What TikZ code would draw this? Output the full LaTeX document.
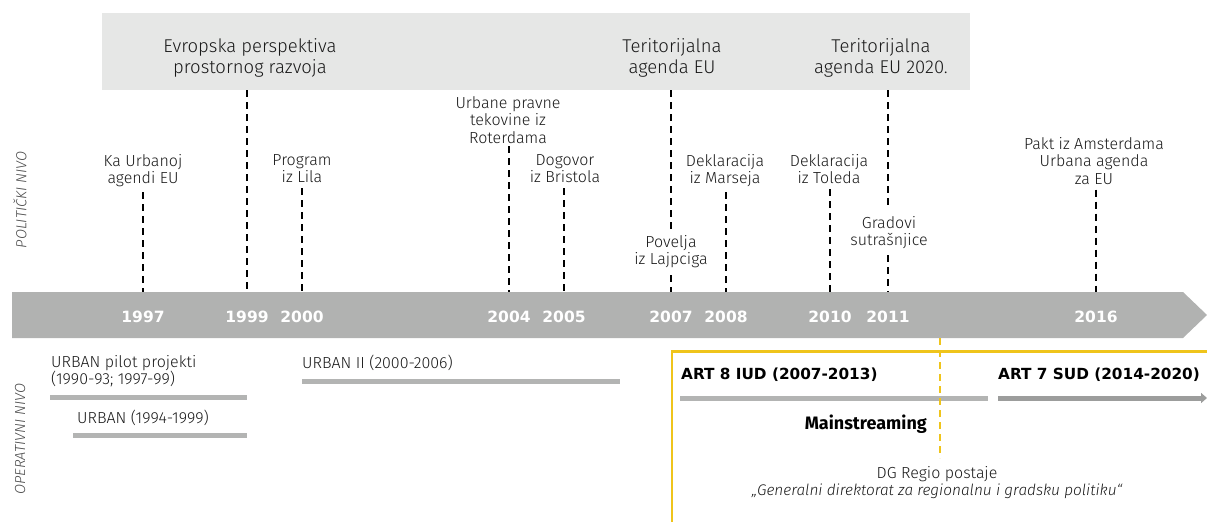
\documentclass[tikz,border=0pt]{standalone}
\usepackage{fontspec}
\IfFontExistsTF{Fira Sans Light}{%
  \setmainfont{Fira Sans Light}[ItalicFont={Fira Sans Light Italic}, BoldFont={Fira Sans Bold}]%
}{%
  \setmainfont{Fira Sans}%
}
\newfontfamily\widebold{DejaVu Sans}
\newfontfamily\firab{Fira Sans}
\usetikzlibrary{arrows.meta}
\definecolor{bandg}{HTML}{B1B2B1}
\definecolor{boxg}{HTML}{E6E7E6}
\definecolor{barg}{HTML}{B3B4B3}
\definecolor{darkbar}{HTML}{9C9D9C}
\definecolor{eyel}{HTML}{EFC41B}
\definecolor{sidetxt}{HTML}{4A4A4A}
\tikzset{
  lbl/.style={align=center, inner sep=0pt, anchor=north, font=\fontsize{16}{17.5}\selectfont, text=black!90},
  toptxt/.style={align=center, inner sep=0pt, anchor=north, font=\fontsize{18.5}{21}\selectfont, text=black!90},
  dsh/.style={line width=2.8pt, dash pattern=on 7pt off 5pt},
  ydsh/.style={line width=2pt, dash pattern=on 7pt off 5pt, draw=eyel},
  yr/.style={inner sep=0pt, text=white, font=\widebold\bfseries\fontsize{15.5}{15.5}\selectfont},
  opbar/.style={line width=5pt, draw=barg},
  optxt/.style={inner sep=0pt, anchor=north west, align=left, font=\fontsize{16}{17.5}\selectfont, text=black!90},
  arttxt/.style={inner sep=0pt, anchor=base west, font=\widebold\bfseries\fontsize{15.3}{15.3}\selectfont},
  side/.style={inner sep=0pt, rotate=90, text=sidetxt, font=\itshape\fontsize{14.6}{14.6}\selectfont},
}
\begin{document}
\begin{tikzpicture}[x=1pt,y=-1pt]
\useasboundingbox (0,0) rectangle (1207,522);
% top grey box
\node[fill=boxg, minimum width=868pt, minimum height=77pt, anchor=north west, inner sep=0pt] (topbox) at (102,13) {};
\node[toptxt] (esdp) at (250,38) {Evropska perspektiva\\prostornog razvoja};
\node[toptxt] (ta) at (672,38) {Teritorijalna\\agenda EU};
\node[toptxt] (ta2020) at (881,38) {Teritorijalna\\agenda EU 2020.};
% band
\path[fill=bandg] (12,292) -- (1183,292) -- (1207,315) -- (1183,338) -- (12,338) -- cycle;
\coordinate (bandtop) at (0,292);
\coordinate (bandbot) at (0,338);
% years
\foreach \yy/\xx in {1997/143,1999/247,2000/302,2004/509,2005/564,2007/671,2008/726,2010/830,2011/888,2016/1096}
  \node[yr] (y\yy) at (\xx,316.5) {\yy};
% labels
\node[lbl] (l1997) at (143,154) {Ka Urbanoj\\agendi EU};
\node[lbl] (l2000) at (302,154) {Program\\iz Lila};
\node[lbl] (l2004) at (508,96) {Urbane pravne\\tekovine iz\\Roterdama};
\node[lbl] (l2005) at (565,154) {Dogovor\\iz Bristola};
\node[lbl] (l2007) at (671,235) {Povelja\\iz Lajpciga};
\node[lbl] (l2008) at (725,154) {Deklaracija\\iz Marseja};
\node[lbl] (l2010) at (829,154) {Deklaracija\\iz Toleda};
\node[lbl] (l2011) at (889,216) {Gradovi\\sutrašnjice};
\node[lbl] (l2016) at (1094,137) {Pakt iz Amsterdama\\Urbana agenda\\za EU};
% dashed connectors
\draw[dsh] ([yshift=-5pt]l1997.south -| y1997) -- (y1997 |- bandtop);
\draw[dsh] (topbox.south -| y1999) -- (y1999 |- bandtop);
\draw[dsh] ([yshift=-5pt]l2000.south -| y2000) -- (y2000 |- bandtop);
\draw[dsh] ([yshift=-3pt]l2004.south -| y2004) -- (y2004 |- bandtop);
\draw[dsh] ([yshift=-5pt]l2005.south -| y2005) -- (y2005 |- bandtop);
\draw[dsh] (topbox.south -| y2007) -- ([yshift=5pt]l2007.north -| y2007);
\draw[dsh] ([yshift=-7pt]l2007.south -| y2007) -- (y2007 |- bandtop);
\draw[dsh] ([yshift=-5pt]l2008.south -| y2008) -- (y2008 |- bandtop);
\draw[dsh] ([yshift=-5pt]l2010.south -| y2010) -- (y2010 |- bandtop);
\draw[dsh] (topbox.south -| y2011) -- ([yshift=6pt]l2011.north -| y2011);
\draw[dsh] ([yshift=-6pt]l2011.south -| y2011) -- (y2011 |- bandtop);
\draw[dsh] ([yshift=-5pt]l2016.south -| y2016) -- (y2016 |- bandtop);
% side labels
\node[side] (pol) at (20,200) {POLITIČKI NIVO};
\node[side] (oper) at (20,439) {OPERATIVNI NIVO};
% operational level
\node[optxt] (pilot) at (51,355) {URBAN pilot projekti\\(1990-93; 1997-99)};
\draw[opbar] (50,397) -- (247,397);
\node[optxt] (urb) at (77,410) {URBAN (1994-1999)};
\draw[opbar] (73,435.5) -- (247,435.5);
\node[optxt] (urb2) at (302,355) {URBAN II (2000-2006)};
\draw[opbar] (302,381) -- (620,381);
% yellow frame
\draw[eyel, line width=2.5pt] (1207,351.5) -- (672,351.5) -- (672,522);
\node[arttxt] (art8) at (681,379) {ART 8 IUD (2007-2013)};
\node[arttxt] (art7) at (998,379) {ART 7 SUD (2014-2020)};
\draw[opbar] (680,398) -- (988,398);
\draw[line width=5pt, draw=darkbar, -{Triangle[length=6pt,width=10pt]}] (998,398) -- (1207,398);
\node[inner sep=0pt, anchor=base east, font=\firab\bfseries\fontsize{18}{18}\selectfont] (main) at (927,429) {Mainstreaming};
\coordinate (ydtop) at (940,338);
\coordinate (ydbot) at (940,458);
\draw[ydsh] (ydtop) -- (ydbot);
\node[inner sep=0pt, anchor=north, align=center, font=\fontsize{16}{17.5}\selectfont, text=black!90] (dg) at (937,466) {DG Regio postaje\\\itshape\fontsize{15.4}{17.5}\selectfont „Generalni direktorat za regionalnu i gradsku politiku“};
\end{tikzpicture}
\end{document}
